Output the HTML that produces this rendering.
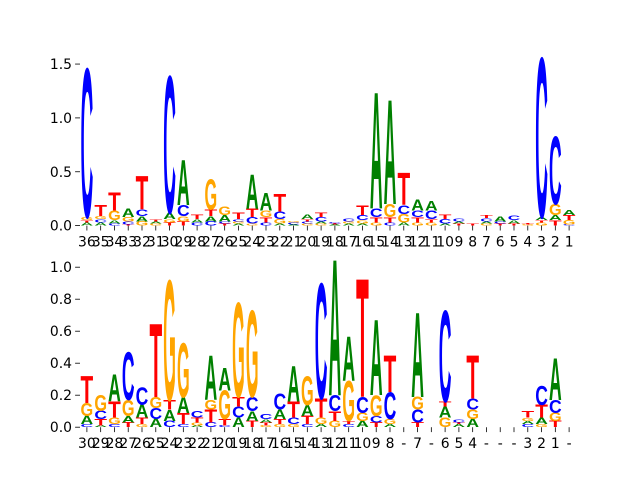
<!DOCTYPE html>
<html><head><meta charset="utf-8"><style>
body{margin:0;background:#fff}
svg{display:block;font-family:"DejaVu Sans","Liberation Sans",sans-serif}
</style></head><body>
<svg id="chart" width="640" height="480" viewBox="0 0 640 480" xmlns="http://www.w3.org/2000/svg"></svg>
<script>
// Top panel data: each position lists [letter, height] from bottom to top
const topLabels = ["36","35","34","33","32","31","30","29","28","27","26","25","24","23","22","21","20","19","18","17","16","15","14","13","12","11","10","9","8","7","6","5","4","3","2","1"];
const topStacks = [
 [["A",.03],["T",.02],["G",.03],["C",1.38]],
 [["A",.03],["C",.03],["G",.03],["T",.1]],
 [["C",.02],["A",.03],["G",.09],["T",.17]],
 [["T",.01],["C",.03],["G",.04],["A",.08]],
 [["G",.04],["A",.05],["C",.06],["T",.31]],
 [["G",.02],["A",.02],["T",.02]],
 [["T",.03],["G",.03],["A",.06],["C",1.27]],
 [["T",.04],["G",.05],["C",.1],["A",.42]],
 [["C",.03],["A",.03],["T",.04]],
 [["C",.04],["A",.05],["T",.06],["G",.28]],
 [["T",.02],["C",.02],["A",.06],["G",.08]],
 [["A",.02],["G",.02],["C",.02],["T",.06]],
 [["G",.02],["C",.06],["T",.08],["A",.32]],
 [["C",.03],["T",.05],["G",.06],["A",.16]],
 [["A",.02],["G",.04],["C",.07],["T",.16]],
 [["A",.01],["C",.02],["G",.01]],
 [["G",.02],["C",.02],["T",.02],["A",.04]],
 [["G",.02],["A",.02],["C",.04],["T",.04]],
 [["A",.01],["T",.01],["C",.01]],
 [["A",.02],["G",.02],["C",.03]],
 [["A",.02],["G",.03],["C",.05],["T",.09]],
 [["G",.03],["T",.05],["C",.08],["A",1.08]],
 [["C",.03],["T",.05],["G",.12],["A",.97]],
 [["A",.03],["G",.08],["C",.08],["T",.3]],
 [["G",.03],["T",.05],["C",.06],["A",.1]],
 [["G",.03],["T",.03],["C",.08],["A",.09]],
 [["A",.02],["C",.04],["T",.04]],
 [["T",.02],["A",.02],["C",.03]],
 [["T",.02]],
 [["G",.02],["A",.02],["C",.03],["T",.03]],
 [["T",.02],["C",.02],["A",.05]],
 [["T",.02],["A",.03],["C",.04]],
 [["G",.01],["T",.01]],
 [["G",.03],["T",.02],["A",.03],["C",1.48]],
 [["T",.05],["A",.05],["G",.1],["C",.63]],
 [["C",.01],["G",.04],["T",.05],["A",.05]]
];
// Bottom panel data
const botLabels = ["30","29","28","27","26","25","24","23","22","21","20","19","18","17","16","15","14","13","12","11","10","9","8","-","7","-","6","5","4","-","-","-","3","2","1","-"];
const botStacks = [
 [["C",.02],["A",.05],["G",.08],["T",.17]],
 [["A",.01],["T",.04],["C",.05],["G",.1]],
 [["C",.02],["G",.04],["T",.1],["A",.17]],
 [["T",.03],["A",.04],["G",.1],["C",.3]],
 [["G",.02],["T",.04],["A",.08],["C",.11]],
 [["A",.05],["C",.07],["G",.07],["T",.46]],
 [["C",.04],["A",.07],["T",.06],["G",.75]],
 [["C",.02],["T",.07],["A",.1],["G",.34]],
 [["A",.01],["G",.02],["T",.03],["C",.04]],
 [["C",.03],["T",.08],["G",.06],["A",.28]],
 [["C",.01],["T",.04],["G",.18],["A",.14]],
 [["A",.06],["C",.07],["T",.06],["G",.59]],
 [["T",.04],["A",.06],["C",.09],["G",.54]],
 [["G",.01],["T",.02],["A",.02],["C",.03]],
 [["G",.02],["T",.03],["A",.06],["C",.1]],
 [["G",.02],["C",.04],["T",.1],["A",.22]],
 [["C",.02],["T",.05],["A",.07],["G",.18]],
 [["A",.02],["G",.04],["T",.12],["C",.72]],
 [["G",.04],["T",.06],["C",.1],["A",.85]],
 [["C",.02],["T",.02],["G",.25],["A",.28]],
 [["A",.04],["G",.05],["C",.1],["T",.74]],
 [["T",.03],["C",.04],["G",.13],["A",.47]],
 [["A",.02],["G",.03],["C",.17],["T",.23]],
 [],
 [["T",.03],["C",.08],["G",.08],["A",.53]],
 [],
 [["G",.06],["A",.07],["T",.03],["C",.57]],
 [["A",.02],["T",.01],["C",.02]],
 [["A",.05],["G",.06],["C",.07],["T",.27]],
 [],[],[],
 [["C",.02],["A",.02],["G",.02],["T",.04]],
 [["G",.02],["A",.04],["T",.08],["C",.12]],
 [["T",.04],["G",.05],["C",.08],["A",.26]],
 []
];
const topTicks = [0, 0.5, 1.0, 1.5];
const topTickLabels = ["0.0","0.5","1.0","1.5"];
const botTicks = [0, 0.2, 0.4, 0.6, 0.8, 1.0];
const botTickLabels = ["0.0","0.2","0.4","0.6","0.8","1.0"];

const NS = "http://www.w3.org/2000/svg";
const svg = document.getElementById("chart");
const colors = {A:"#008000", C:"#0000ff", G:"#ffa500", T:"#ff0000"};
const L = 80, R = 576;

function panel(name, stacks, labels, yTop, yBot, yMax, ticks, tickLabels) {
  const g = document.createElementNS(NS, "g");
  
  
  svg.appendChild(g);
  const n = stacks.length;
  const step = (R - L) / n;
  const xs = i => L + (i + 0.5) * step;
  const ys = v => yBot - v / yMax * (yBot - yTop);
  const w = step * 0.92;
  stacks.forEach((st, i) => {
    let cum = 0;
    st.forEach(([ch, h]) => {
      const yb = ys(cum), yt = ys(cum + h);
      cum += h;
      const hh = yb - yt;
      if (hh <= 0) return;
      const t = document.createElementNS(NS, "text");
      
      
      t.textContent = ch;
      t.setAttribute("x", 0); t.setAttribute("y", 0);
      t.setAttribute("font-size", 100);
      t.setAttribute("font-weight", "bold");
      t.setAttribute("font-family", "Liberation Sans, sans-serif");
      t.setAttribute("textLength", 72);
      t.setAttribute("lengthAdjust", "spacingAndGlyphs");
      t.setAttribute("fill", colors[ch]);
      t.setAttribute("transform", `translate(${xs(i) - w / 2},${yb}) scale(${w / 72},${hh / 69.5})`);
      g.appendChild(t);
    });
    const tk = document.createElementNS(NS, "line");
    
    
    tk.setAttribute("x1", xs(i)); tk.setAttribute("x2", xs(i));
    tk.setAttribute("y1", yBot); tk.setAttribute("y2", yBot + 4.9);
    tk.setAttribute("stroke", "#000"); tk.setAttribute("stroke-width", 0.8);
    g.appendChild(tk);
    const lb = document.createElementNS(NS, "text");
    
    
    lb.textContent = labels[i];
    lb.setAttribute("x", xs(i)); lb.setAttribute("y", yBot + 21);
    lb.setAttribute("font-size", 13.9); lb.setAttribute("text-anchor", "middle");
    g.appendChild(lb);
  });
  ticks.forEach((v, k) => {
    const y = ys(v);
    const tk = document.createElementNS(NS, "line");
    
    
    tk.setAttribute("x1", L - 4.9); tk.setAttribute("x2", L);
    tk.setAttribute("y1", y); tk.setAttribute("y2", y);
    tk.setAttribute("stroke", "#000"); tk.setAttribute("stroke-width", 0.8);
    g.appendChild(tk);
    const lb = document.createElementNS(NS, "text");
    
    
    lb.textContent = tickLabels[k];
    lb.setAttribute("x", L - 8); lb.setAttribute("y", y + 5);
    lb.setAttribute("font-size", 13.9); lb.setAttribute("text-anchor", "end");
    g.appendChild(lb);
  });
}
panel("top-logo-panel", topStacks, topLabels, 57.6, 225.6, 1.56, topTicks, topTickLabels);
panel("bottom-logo-panel", botStacks, botLabels, 259.2, 427.2, 1.05, botTicks, botTickLabels);
</script>
</body></html>
